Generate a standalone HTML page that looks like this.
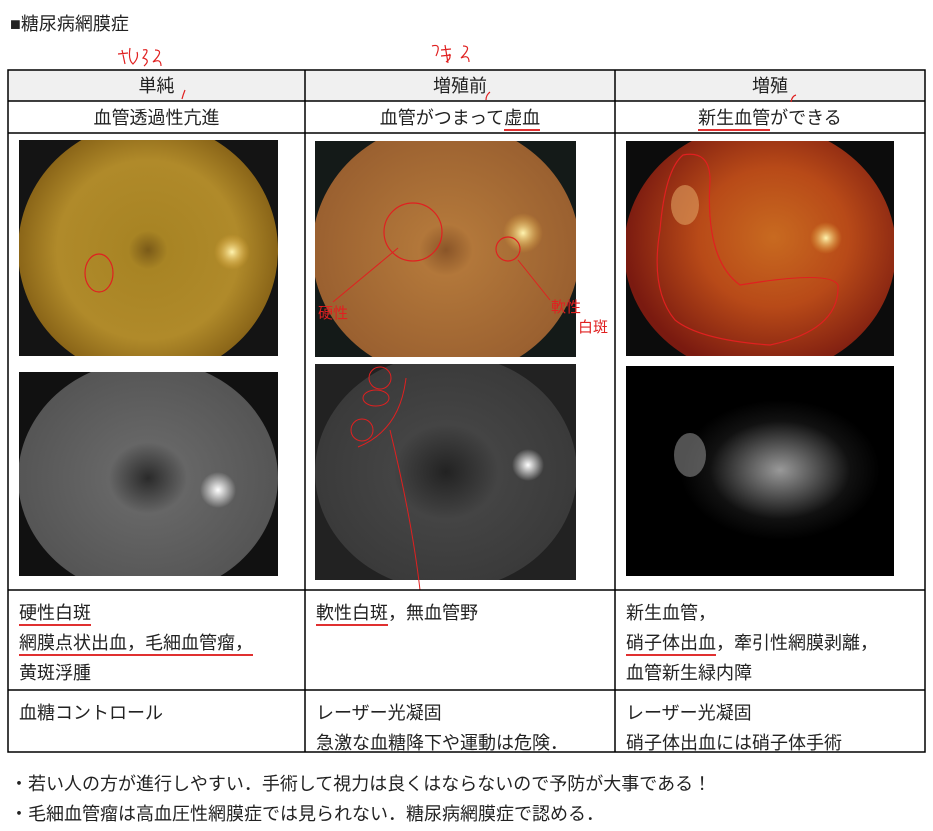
<!DOCTYPE html>
<html><head><meta charset="utf-8"><style>
body{margin:0;width:933px;height:831px;background:#fff;position:relative;overflow:hidden;font-family:"Liberation Sans","Noto Sans CJK JP",sans-serif;color:#222}
.t{position:absolute;font-size:18px;white-space:nowrap;line-height:20px}
.u{border-bottom:2px solid #e03030;padding-bottom:1px}
</style></head><body>
<svg width="933" height="831" style="position:absolute;left:0;top:0">
<defs>
<clipPath id="c1"><rect x="19" y="140" width="259" height="216"/></clipPath>
<clipPath id="c2"><rect x="19" y="372" width="259" height="204"/></clipPath>
<clipPath id="c3"><rect x="315" y="141" width="261" height="216"/></clipPath>
<clipPath id="c4"><rect x="315" y="364" width="261" height="216"/></clipPath>
<clipPath id="c5"><rect x="626" y="141" width="268" height="215"/></clipPath>
<clipPath id="c6"><rect x="626" y="366" width="268" height="210"/></clipPath>
<radialGradient id="y1" cx="50%" cy="50%" r="50%"><stop offset="0" stop-color="#7a5a18"/><stop offset="0.15" stop-color="#a88424"/><stop offset="0.7" stop-color="#b08a2a"/><stop offset="1" stop-color="#8a6518"/></radialGradient>
<radialGradient id="o2" cx="50%" cy="50%" r="50%"><stop offset="0" stop-color="#8a5528"/><stop offset="0.2" stop-color="#b2773a"/><stop offset="1" stop-color="#9a6030"/></radialGradient>
<radialGradient id="r3" cx="55%" cy="45%" r="55%"><stop offset="0" stop-color="#c86a20"/><stop offset="0.5" stop-color="#b84a18"/><stop offset="1" stop-color="#7a1a10"/></radialGradient>
<radialGradient id="g1" cx="50%" cy="50%" r="50%"><stop offset="0" stop-color="#2a2a2a"/><stop offset="0.3" stop-color="#666"/><stop offset="1" stop-color="#555"/></radialGradient>
<radialGradient id="g2" cx="50%" cy="50%" r="50%"><stop offset="0" stop-color="#222"/><stop offset="0.4" stop-color="#444"/><stop offset="1" stop-color="#3a3a3a"/></radialGradient>
<radialGradient id="g3" cx="50%" cy="50%" r="50%"><stop offset="0" stop-color="#999"/><stop offset="0.35" stop-color="#555"/><stop offset="0.7" stop-color="#111"/><stop offset="1" stop-color="#000"/></radialGradient>
<radialGradient id="disc" cx="50%" cy="50%" r="50%"><stop offset="0" stop-color="#fff4b0"/><stop offset="1" stop-color="#e8b040" stop-opacity="0"/></radialGradient>
<radialGradient id="discw" cx="50%" cy="50%" r="50%"><stop offset="0" stop-color="#fff"/><stop offset="1" stop-color="#fff" stop-opacity="0"/></radialGradient>
</defs>
<rect x="8" y="70" width="917" height="31" fill="#f0f0f0"/>
<!-- col1 -->
<g clip-path="url(#c1)">
<rect x="19" y="140" width="259" height="216" fill="#141414"/>
<ellipse cx="148" cy="250" rx="130" ry="128" fill="url(#y1)"/>
<circle cx="232" cy="252" r="18" fill="url(#disc)"/>
</g>
<ellipse cx="99" cy="273" rx="14" ry="19" fill="none" stroke="#e02020" stroke-width="1.2"/>
<g clip-path="url(#c2)">
<rect x="19" y="372" width="259" height="204" fill="#111"/>
<ellipse cx="148" cy="478" rx="130" ry="118" fill="url(#g1)"/>
<circle cx="218" cy="490" r="18" fill="url(#discw)"/>
</g>
<!-- col2 -->
<g clip-path="url(#c3)">
<rect x="315" y="141" width="261" height="216" fill="#141a18"/>
<ellipse cx="446" cy="250" rx="134" ry="128" fill="url(#o2)"/>
<circle cx="523" cy="233" r="20" fill="url(#disc)"/>
</g>
<circle cx="413" cy="232" r="29" fill="none" stroke="#e02020" stroke-width="1.2"/>
<circle cx="508" cy="249" r="12" fill="none" stroke="#e02020" stroke-width="1.2"/>
<path d="M398 248 L333 302 M518 260 L550 300" stroke="#e02020" fill="none"/>
<g clip-path="url(#c4)">
<rect x="315" y="364" width="261" height="216" fill="#222"/>
<ellipse cx="446" cy="472" rx="131" ry="118" fill="url(#g2)"/>
<circle cx="528" cy="465" r="16" fill="url(#discw)"/>
</g>
<circle cx="380" cy="378" r="11" fill="none" stroke="#e02020"/>
<ellipse cx="376" cy="398" rx="13" ry="8" fill="none" stroke="#e02020"/>
<circle cx="362" cy="430" r="11" fill="none" stroke="#e02020"/>
<path d="M406 378 Q400 430 358 447 M390 430 Q412 520 420 590" stroke="#e02020" fill="none"/>
<!-- col3 -->
<g clip-path="url(#c5)">
<rect x="626" y="141" width="268" height="215" fill="#0c0c0c"/>
<ellipse cx="760" cy="250" rx="136" ry="126" fill="url(#r3)"/>
<circle cx="826" cy="238" r="16" fill="url(#disc)"/>
<ellipse cx="685" cy="205" rx="14" ry="20" fill="#e0a060" opacity="0.6"/>
</g>
<path d="M683 155 Q710 150 710 180 Q705 260 740 285 Q830 270 838 285 Q840 330 770 345 Q700 340 675 320 Q650 290 660 230 Q665 170 683 155Z" fill="none" stroke="#e02020" stroke-width="1.2"/>
<g clip-path="url(#c6)">
<rect x="626" y="366" width="268" height="210" fill="#000"/>
<ellipse cx="780" cy="470" rx="100" ry="70" fill="url(#g3)"/>
<ellipse cx="690" cy="455" rx="16" ry="22" fill="#888" opacity="0.6"/>
</g>
<g stroke="#000" stroke-width="1.5" fill="none">
<rect x="8" y="70" width="917" height="682"/>
<line x1="8" y1="101" x2="925" y2="101"/><line x1="8" y1="133" x2="925" y2="133"/>
<line x1="8" y1="590" x2="925" y2="590"/><line x1="8" y1="690" x2="925" y2="690"/>
<line x1="305" y1="70" x2="305" y2="752"/><line x1="615" y1="70" x2="615" y2="752"/>
</g>
<!-- red notes -->
<g stroke="#e02020" fill="none" stroke-width="1.2">
<path d="M185 90 q-2 5 -3 9 M490 92 q-4 3 -4 8 M796 95 q-4 1 -5 7"/>
<path d="M122 50 l3 14 M118 54 l10 -1 M130 48 q-2 12 3 16 q6 -6 4 -12 M143 50 q8 -2 0 8 q8 2 1 8 M155 50 q10 0 -2 12 q8 -4 8 4"/>
<path d="M432 46 q10 -3 4 10 M445 45 l3 18 M441 50 l10 -1 M441 56 l10 -1 M446 62 q6 -4 3 -8 M463 46 q10 0 -2 12 q8 -4 8 4"/>
</g>
</svg>
<div class="t" style="left:10px;top:14px">■糖尿病網膜症</div>
<div class="t" style="left:8px;width:297px;top:76px;text-align:center">単純</div>
<div class="t" style="left:305px;width:310px;top:76px;text-align:center">増殖前</div>
<div class="t" style="left:615px;width:310px;top:76px;text-align:center">増殖</div>
<div class="t" style="left:8px;width:297px;top:108px;text-align:center">血管透過性亢進</div>
<div class="t" style="left:305px;width:310px;top:108px;text-align:center">血管がつまって<span class="u">虚血</span></div>
<div class="t" style="left:615px;width:310px;top:108px;text-align:center"><span class="u">新生血管</span>ができる</div>
<div class="t" style="left:318px;top:304px;color:#e02020;font-size:15px">硬性</div>
<div class="t" style="left:551px;top:298px;color:#e02020;font-size:15px">軟性</div>
<div class="t" style="left:578px;top:318px;color:#e02020;font-size:15px">白斑</div>
<div class="t" style="left:19px;top:598px;line-height:30px"><span class="u">硬性白斑</span><br><span class="u">網膜点状出血，毛細血管瘤，</span><br>黄斑浮腫</div>
<div class="t" style="left:316px;top:598px;line-height:30px"><span class="u">軟性白斑</span>，無血管野</div>
<div class="t" style="left:626px;top:598px;line-height:30px">新生血管，<br><span class="u">硝子体出血</span>，牽引性網膜剥離，<br>血管新生緑内障</div>
<div class="t" style="left:19px;top:698px;line-height:30px">血糖コントロール</div>
<div class="t" style="left:316px;top:698px;line-height:30px">レーザー光凝固<br>急激な血糖降下や運動は危険．</div>
<div class="t" style="left:626px;top:698px;line-height:30px">レーザー光凝固<br>硝子体出血には硝子体手術</div>
<div class="t" style="left:10px;top:769px;line-height:30px">・若い人の方が進行しやすい．手術して視力は良くはならないので予防が大事である！<br>・毛細血管瘤は高血圧性網膜症では見られない．糖尿病網膜症で認める．</div>
</body></html>
